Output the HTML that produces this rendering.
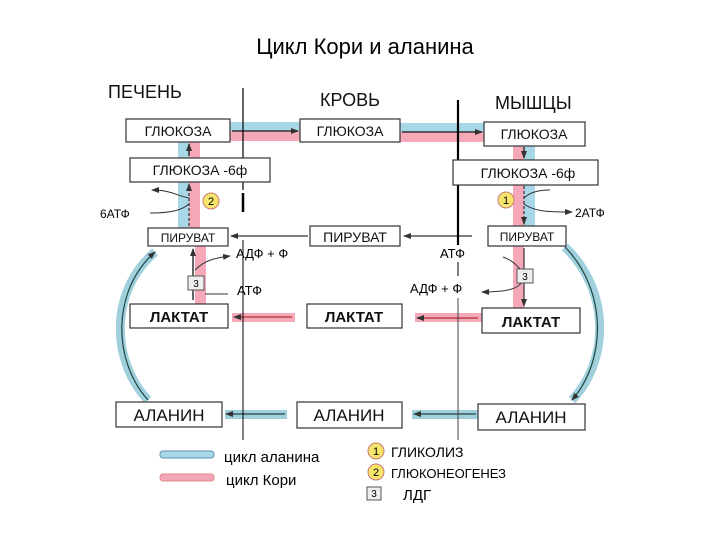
<!DOCTYPE html>
<html><head><meta charset="utf-8"><style>
html,body{margin:0;padding:0;background:#fff;}
svg{display:block;font-family:"Liberation Sans",sans-serif;}
</style></head><body>
<svg width="720" height="540" viewBox="0 0 720 540" xmlns="http://www.w3.org/2000/svg">
<defs>
<marker id="a" markerWidth="8" markerHeight="8" refX="7" refY="4" orient="auto" markerUnits="userSpaceOnUse"><path d="M0,1 L8,4 L0,7 z" fill="#333"/></marker>
</defs>
<rect width="720" height="540" fill="#fff"/>
<text x="365" y="54" font-size="22" text-anchor="middle" fill="#000">Цикл Кори и аланина</text>
<text x="108" y="98" font-size="18" fill="#111">ПЕЧЕНЬ</text>
<text x="320" y="106" font-size="18" fill="#111">КРОВЬ</text>
<text x="495" y="109" font-size="18" fill="#111">МЫШЦЫ</text>

<!-- bands horizontal -->
<rect x="230" y="122" width="70" height="9" fill="#a8d8e8"/><rect x="230" y="131" width="70" height="10" fill="#f4a8b8"/>
<rect x="400" y="123" width="84" height="9" fill="#a8d8e8"/><rect x="400" y="132" width="84" height="10" fill="#f4a8b8"/>
<line x1="232" y1="131" x2="298" y2="131" stroke="#333" stroke-width="1.5" marker-end="url(#a)"/>
<line x1="402" y1="132" x2="482" y2="132" stroke="#333" stroke-width="1.5" marker-end="url(#a)"/>
<rect x="232" y="313" width="63" height="9" fill="#f4a8b8"/><rect x="415" y="313" width="67" height="9" fill="#f4a8b8"/>
<line x1="292" y1="317" x2="234" y2="317" stroke="#a33" stroke-width="1.2" marker-end="url(#a)"/>
<line x1="478" y1="318" x2="417" y2="318" stroke="#a33" stroke-width="1.2" marker-end="url(#a)"/>
<rect x="225" y="410" width="62" height="9" fill="#9fd0dc"/><rect x="412" y="410" width="66" height="9" fill="#9fd0dc"/>
<line x1="285" y1="414" x2="226" y2="414" stroke="#244" stroke-width="1.2" marker-end="url(#a)"/>
<line x1="476" y1="414" x2="414" y2="414" stroke="#244" stroke-width="1.2" marker-end="url(#a)"/>
<line x1="472" y1="236" x2="404" y2="236" stroke="#333" stroke-width="1.2" marker-end="url(#a)"/>
<line x1="308" y1="236" x2="231" y2="236" stroke="#333" stroke-width="1.2" marker-end="url(#a)"/>

<!-- vertical bands left -->
<rect x="178" y="142" width="11" height="16" fill="#a8d8e8"/><rect x="189" y="142" width="11" height="16" fill="#f4a8b8"/>
<rect x="178" y="182" width="11" height="46" fill="#a8d8e8"/><rect x="189" y="182" width="11" height="46" fill="#f4a8b8"/>
<line x1="189" y1="156" x2="189" y2="144" stroke="#333" stroke-width="1.5" marker-end="url(#a)"/>
<line x1="189" y1="226" x2="189" y2="184" stroke="#333" stroke-width="1.2" stroke-dasharray="3,2" marker-end="url(#a)"/>
<path d="M189,198 C175,195 170,190 152,190" stroke="#333" fill="none" stroke-width="1" marker-end="url(#a)"/>
<path d="M150,213 C172,213 182,210 189,204" stroke="#333" fill="none" stroke-width="1"/>
<circle cx="211" cy="201" r="8" fill="#f5e56a" stroke="#c77" stroke-width="1"/>
<text x="211" y="205" font-size="11" text-anchor="middle">2</text>
<text x="100" y="218" font-size="12">6АТФ</text>
<rect x="195" y="246" width="11" height="58" fill="#f4a8b8"/>
<line x1="193" y1="300" x2="193" y2="249" stroke="#333" stroke-width="1.5" marker-end="url(#a)"/>
<path d="M195,270 C205,260 215,258 230,256" stroke="#333" fill="none" stroke-width="1" marker-end="url(#a)"/>
<path d="M205,294 L228,294" stroke="#333" stroke-width="1"/>
<rect x="188" y="276" width="16" height="14" fill="#eee" stroke="#555"/>
<text x="196" y="287" font-size="10" text-anchor="middle">3</text>
<text x="236" y="258" font-size="13">АДФ + Ф</text>
<text x="237" y="295" font-size="13">АТФ</text>

<!-- vertical bands right -->
<rect x="513" y="146" width="11" height="14" fill="#f4a8b8"/><rect x="524" y="146" width="11" height="14" fill="#a8d8e8"/>
<rect x="513" y="185" width="11" height="41" fill="#f4a8b8"/><rect x="524" y="185" width="11" height="41" fill="#a8d8e8"/>
<line x1="524" y1="147" x2="524" y2="158" stroke="#333" stroke-width="1.5" marker-end="url(#a)"/>
<line x1="524" y1="186" x2="524" y2="224" stroke="#333" stroke-width="1.2" stroke-dasharray="3,2" marker-end="url(#a)"/>
<path d="M524,198 C530,192 540,190 550,190" stroke="#333" fill="none" stroke-width="1"/>
<path d="M524,204 C535,212 550,212 572,212" stroke="#333" fill="none" stroke-width="1" marker-end="url(#a)"/>
<circle cx="506" cy="200" r="8" fill="#f5e56a" stroke="#c77" stroke-width="1"/>
<text x="506" y="204" font-size="11" text-anchor="middle">1</text>
<text x="575" y="217" font-size="12">2АТФ</text>
<rect x="513" y="246" width="11" height="62" fill="#f4a8b8"/>
<line x1="524" y1="248" x2="524" y2="306" stroke="#333" stroke-width="1.2" marker-end="url(#a)"/>
<path d="M503,257 C512,260 518,266 522,272" stroke="#333" fill="none" stroke-width="1"/>
<path d="M522,282 C518,288 510,292 482,292" stroke="#333" fill="none" stroke-width="1" marker-end="url(#a)"/>
<rect x="517" y="269" width="16" height="14" fill="#eee" stroke="#555"/>
<text x="525" y="280" font-size="10" text-anchor="middle">3</text>
<text x="440" y="258" font-size="13">АТФ</text>
<text x="410" y="293" font-size="13">АДФ + Ф</text>

<!-- curves -->
<path d="M148,400 C110,360 110,290 155,252" stroke="#9fd0dc" stroke-width="9" fill="none"/>
<path d="M148,400 C112,360 112,290 155,252" stroke="#244" stroke-width="1.2" fill="none" marker-end="url(#a)"/>
<path d="M565,247 C610,290 610,360 572,400" stroke="#9fd0dc" stroke-width="9" fill="none"/>
<path d="M565,247 C607,290 607,360 572,400" stroke="#244" stroke-width="1.2" fill="none" marker-end="url(#a)"/>

<!-- separator lines -->
<line x1="243" y1="88" x2="243" y2="190" stroke="#000" stroke-width="1.2"/>
<line x1="243" y1="193" x2="243" y2="212" stroke="#000" stroke-width="2.5"/>
<line x1="243" y1="240" x2="243" y2="440" stroke="#000" stroke-width="1"/>
<line x1="458" y1="100" x2="458" y2="245" stroke="#000" stroke-width="2.2"/>
<line x1="458" y1="262" x2="458" y2="276" stroke="#000" stroke-width="1"/>
<line x1="458" y1="298" x2="458" y2="440" stroke="#444" stroke-width="1"/>

<!-- boxes -->
<g fill="#fff" stroke="#333" stroke-width="1.2">
<rect x="126" y="119" width="104" height="23"/>
<rect x="300" y="119" width="100" height="23"/>
<rect x="484" y="122" width="101" height="24"/>
<rect x="130" y="158" width="140" height="24"/>
<rect x="453" y="160" width="145" height="25"/>
<rect x="148" y="228" width="80" height="18"/>
<rect x="310" y="226" width="90" height="20"/>
<rect x="488" y="226" width="78" height="20"/>
<rect x="130" y="304" width="98" height="24"/>
<rect x="307" y="304" width="95" height="24"/>
<rect x="482" y="308" width="98" height="25"/>
<rect x="116" y="402" width="106" height="25"/>
<rect x="297" y="402" width="105" height="26"/>
<rect x="478" y="404" width="107" height="26"/>
</g>
<g font-size="14" text-anchor="middle" fill="#111">
<text x="178" y="136">ГЛЮКОЗА</text>
<text x="350" y="136">ГЛЮКОЗА</text>
<text x="534" y="139">ГЛЮКОЗА</text>
<text x="200" y="175">ГЛЮКОЗА -6ф</text>
<text x="528" y="178">ГЛЮКОЗА -6ф</text>
<text x="188" y="242" font-size="12">ПИРУВАТ</text>
<text x="355" y="242">ПИРУВАТ</text>
<text x="527" y="241" font-size="12">ПИРУВАТ</text>
<text x="179" y="322" font-weight="bold" font-size="15">ЛАКТАТ</text>
<text x="354" y="322" font-weight="bold" font-size="15">ЛАКТАТ</text>
<text x="531" y="327" font-weight="bold" font-size="15">ЛАКТАТ</text>
<text x="169" y="421" font-size="17">АЛАНИН</text>
<text x="349" y="421" font-size="17">АЛАНИН</text>
<text x="531" y="423" font-size="17">АЛАНИН</text>
</g>

<!-- legend -->
<rect x="160" y="451" width="54" height="7" rx="3" fill="#a8d8e8" stroke="#5a8fb0"/>
<text x="224" y="462" font-size="15">цикл аланина</text>
<rect x="160" y="474" width="54" height="7" rx="3" fill="#f4a8b8" stroke="#d88"/>
<text x="226" y="485" font-size="15">цикл  Кори</text>
<circle cx="376" cy="451" r="8" fill="#f5e56a" stroke="#c77"/>
<text x="376" y="455" font-size="11" text-anchor="middle">1</text>
<text x="391" y="457" font-size="14">ГЛИКОЛИЗ</text>
<circle cx="376" cy="472" r="8" fill="#f5e56a" stroke="#c77"/>
<text x="376" y="476" font-size="11" text-anchor="middle">2</text>
<text x="391" y="478" font-size="13">ГЛЮКОНЕОГЕНЕЗ</text>
<rect x="367" y="487" width="14" height="13" fill="#eee" stroke="#555"/>
<text x="374" y="497" font-size="10" text-anchor="middle">3</text>
<text x="403" y="500" font-size="15">ЛДГ</text>
</svg>
</body></html>
